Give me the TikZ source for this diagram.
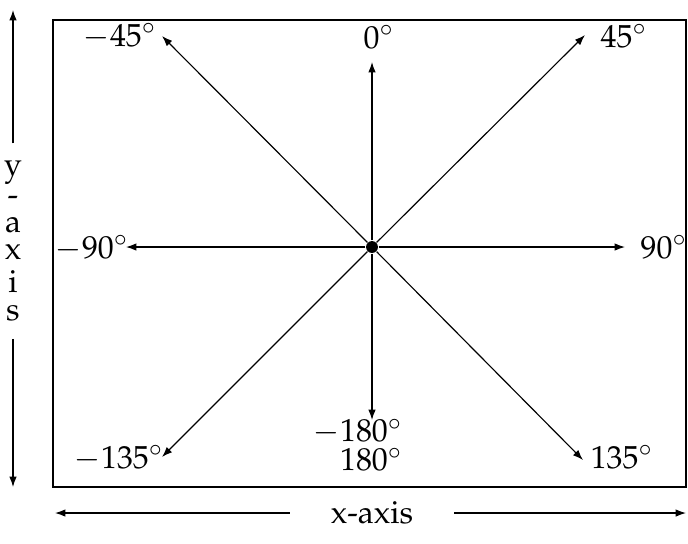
\documentclass[tikz,border=0pt]{standalone}
\usepackage[T1]{fontenc}
\usepackage{mathpazo}
\usepackage{tikz}
\usetikzlibrary{arrows.meta}
\tikzset{
  dirline/.style={
    draw,
    -{Latex[length=3.6pt,width=2.6pt]},
    line width=0.4pt
  },
  dirlabel/.style={
    inner sep=0pt,
    font=\fontsize{11}{13}\selectfont
  },
  axisline/.style={
    draw,
    -{Latex[length=3.6pt,width=2.6pt]},
    line width=0.4pt
  },
  frame/.style={
    draw,
    line width=0.5pt
  }
}

\begin{document}
\begin{tikzpicture}[x=0.345pt,y=-0.345pt]
  \useasboundingbox (0,0) rectangle (688,543);
  \draw[frame] (53,20) rectangle (686,487);
  \node[circle,fill,inner sep=0pt,minimum size=4.1pt] (o) at (372,247) {};
  % arrow tips
  \coordinate (t0) at (372,62);
  \coordinate (t45) at (585,35);
  \coordinate (tm45) at (162,36);
  \coordinate (t90) at (625,247);
  \coordinate (tm90) at (126,247);
  \coordinate (t135) at (583,460);
  \coordinate (tm135) at (162,457);
  \coordinate (t180) at (372,420);
  % labels
  \node[dirlabel] (l0) at (379,37) {$0^\circ$};
  \node[dirlabel] (l45) at (624,36) {$45^\circ$};
  \node[dirlabel] (lm45) at (120,36) {$-45^\circ$};
  \node[dirlabel] (l90) at (664,247) {$90^\circ$};
  \node[dirlabel] (lm90) at (92,248) {$-90^\circ$};
  \node[dirlabel] (l135) at (622,457) {$135^\circ$};
  \node[dirlabel] (lm135) at (119,458) {$-135^\circ$};
  \node[dirlabel,align=right] (l180) at (358,445) {$-180^\circ$\\[-3pt]$180^\circ$};
  \foreach \tip in {t0,t45,tm45,t90,tm90,t135,tm135,t180}{\draw[dirline] (o) -- (\tip);}
  % axes
  \node[dirlabel,inner xsep=2pt,inner ysep=6pt] (ylab) at (13,241) {\shortstack{y\\[1pt]-\\[1pt]a\\[1pt]x\\[1pt]i\\[1pt]s}};
  \coordinate (ytop) at (13,10);
  \coordinate (ybot) at (13,487);
  \draw[axisline] (ylab) -- (ytop);
  \draw[axisline] (ylab) -- (ybot);
  \node[dirlabel,inner xsep=14pt,inner ysep=2pt] (xlab) at (372,513) {x-axis};
  \coordinate (xleft) at (55,513);
  \coordinate (xright) at (686,513);
  \draw[axisline] (xlab) -- (xleft);
  \draw[axisline] (xlab) -- (xright);
\end{tikzpicture}
\end{document}
